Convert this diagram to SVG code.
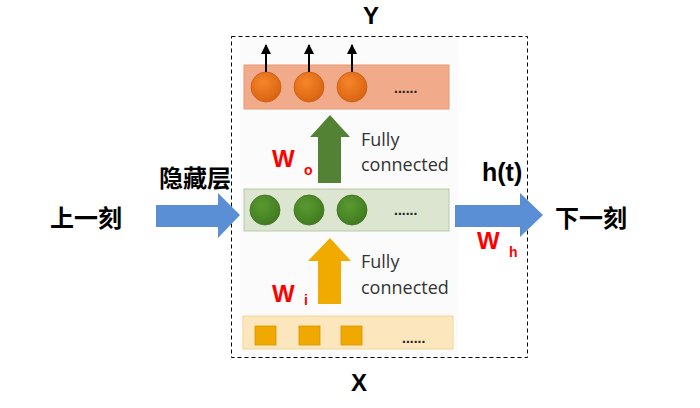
<svg xmlns="http://www.w3.org/2000/svg" width="700" height="408" viewBox="0 0 700 408">
<defs>
<style>
.cjk{font-family:"Noto Sans CJK SC","Liberation Sans",sans-serif;font-weight:bold;font-size:24px;fill:#000}
.lbl{font-family:"Liberation Sans",Arial,sans-serif;font-weight:bold;font-size:24px;fill:#000}
.fc{font-family:"Open Sans","Liberation Sans",sans-serif;font-size:18px;fill:#333}
.w{font-family:"Liberation Sans",Arial,sans-serif;font-weight:bold;font-size:24px;fill:#ff0000}
.ws{font-family:"Liberation Sans",Arial,sans-serif;font-weight:bold;font-size:14px;fill:#ff0000}
.dots{font-family:"Liberation Sans",Arial,sans-serif;font-weight:bold;font-size:14px;fill:#222}
.blue{fill:#5a8fd5}
.oc{fill:url(#og);stroke:#c85a10;stroke-width:0.8}
.gc{fill:url(#gg);stroke:#3d6e1f;stroke-width:0.8}
.sq{fill:#f0a900;stroke:#d89500;stroke-width:0.8}
</style>
<radialGradient id="og" cx="0.4" cy="0.35" r="0.7"><stop offset="0" stop-color="#f5852a"/><stop offset="1" stop-color="#d8620f"/></radialGradient>
<radialGradient id="gg" cx="0.4" cy="0.35" r="0.7"><stop offset="0" stop-color="#5a9a30"/><stop offset="1" stop-color="#3f7a1f"/></radialGradient>
<marker id="ah" viewBox="0 0 10 10" refX="9" refY="5" markerWidth="5" markerHeight="5" orient="auto"><path d="M0,0 L10,5 L0,10 z" fill="#000"/></marker>
</defs>
<rect width="700" height="408" fill="#fff"/>
<rect x="240" y="36" width="218" height="320" fill="#fbfbfb"/>
<rect x="231.5" y="36.5" width="296" height="321" fill="none" stroke="#000" stroke-width="1" stroke-dasharray="4,3"/>

<g id="output-layer">
<rect x="244" y="65" width="205" height="44" fill="#f1ab8a" stroke="#e79a74" stroke-width="1"/>
<circle class="oc" cx="266" cy="87" r="15"/>
<circle class="oc" cx="309" cy="87" r="15"/>
<circle class="oc" cx="352" cy="87" r="15"/>
<text class="dots" x="394" y="93">......</text>
</g>

<g id="hidden-layer">
<rect x="244" y="189" width="205" height="42" fill="#dbe5cf" stroke="#b9c9a8" stroke-width="1"/>
<circle class="gc" cx="265" cy="210" r="15"/>
<circle class="gc" cx="309" cy="210" r="15"/>
<circle class="gc" cx="352" cy="210" r="15"/>
<text class="dots" x="394" y="215">......</text>
</g>

<g id="input-layer">
<rect x="243" y="316" width="210" height="33" fill="#fce6bd" stroke="#f1d596" stroke-width="1"/>
<rect class="sq" x="255" y="326" width="21" height="19"/>
<rect class="sq" x="299" y="326" width="21" height="19"/>
<rect class="sq" x="341" y="326" width="21" height="19"/>
<text class="dots" x="402" y="343">......</text>
</g>

<g id="connectors">
<line x1="266" y1="72" x2="266" y2="45" stroke="#000" stroke-width="2" marker-end="url(#ah)"/>
<line x1="309" y1="72" x2="309" y2="45" stroke="#000" stroke-width="2" marker-end="url(#ah)"/>
<line x1="352" y1="72" x2="352" y2="45" stroke="#000" stroke-width="2" marker-end="url(#ah)"/>
<path d="M318,183 L318,137 L310,137 L330,115 L350,137 L341,137 L341,183 z" fill="#548235"/>
<path d="M318,304 L318,261 L308,261 L330,238 L351,261 L341,261 L341,304 z" fill="#f0aa00"/>
<path class="blue" d="M156,205 L218,205 L218,193 L240,215 L218,238 L218,227 L156,227 z"/>
<path class="blue" d="M455,205 L520,205 L520,193 L543,215 L520,237 L520,227 L455,227 z"/>
</g>

<g id="labels">
<text class="lbl" x="363" y="24">Y</text>
<text class="lbl" x="351" y="391">X</text>
<text class="cjk" x="159" y="187">隐藏层</text>
<text class="cjk" x="50" y="227">上一刻</text>
<text class="cjk" x="555" y="227">下一刻</text>
<text class="lbl" x="482" y="181" style="font-size:25px">h(t)</text>
<text class="fc" x="361" y="146">Fully</text>
<text class="fc" x="361" y="171">connected</text>
<text class="fc" x="361" y="268">Fully</text>
<text class="fc" x="361" y="294">connected</text>
<text class="w" x="272" y="167">W</text>
<text class="ws" x="304" y="175">o</text>
<text class="w" x="272" y="302">W</text>
<text class="ws" x="304" y="305">i</text>
<text class="w" x="477" y="249">W</text>
<text class="ws" x="509" y="257">h</text>
</g>
</svg>
